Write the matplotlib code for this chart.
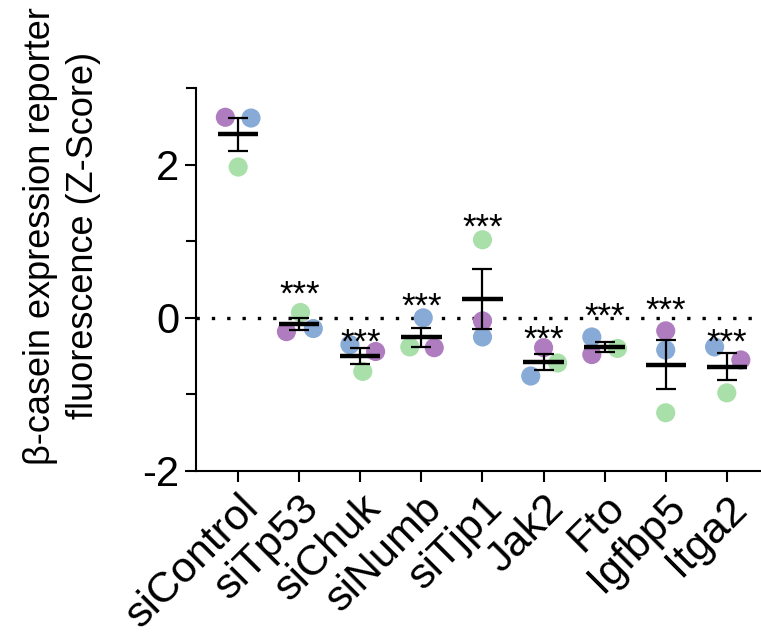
import matplotlib
matplotlib.use("Agg")
import matplotlib.pyplot as plt
import numpy as np

plt.rcParams['font.family'] = ['Liberation Sans', 'DejaVu Sans']
plt.rcParams['axes.unicode_minus'] = False

groups = ['siControl', 'siTp53', 'siChuk', 'siNumb', 'siTjp1', 'Jak2', 'Fto', 'Igfbp5', 'Itga2']
# replicate values (purple, blue, green)
rep_purple = [2.62, -0.18, -0.44, -0.39, -0.04, -0.39, -0.48, -0.17, -0.55]
rep_blue = [2.61, -0.14, -0.35, 0.00, -0.25, -0.76, -0.25, -0.42, -0.38]
rep_green = [1.97, 0.07, -0.70, -0.38, 1.02, -0.59, -0.40, -1.24, -0.98]
stars = ['', '***', '***', '***', '***', '***', '***', '***', '***']
star_y = [0, 0.42, -0.20, 0.26, 1.30, -0.17, 0.13, 0.22, -0.21]

# horizontal jitter used by the plotting program (style only)
off_purple = [-0.21, -0.21, 0.25, 0.21, 0.0, 0.0, -0.21, 0.0, 0.23]
off_blue = [0.21, 0.23, -0.17, 0.03, 0.0, -0.21, -0.21, 0.0, -0.2]
off_green = [0.0, 0.02, 0.04, -0.19, 0.0, 0.23, 0.21, 0.0, 0.0]

c_purple = '#B07CC0'
c_blue = '#88AAD6'
c_green = '#A9E0AA'

fig = plt.figure(figsize=(7.61, 6.39), dpi=100)
ax = fig.add_axes([0.2576, 0.263, 0.7424, 0.599])

x = np.arange(len(groups))
data = np.array([rep_purple, rep_blue, rep_green])
means = data.mean(axis=0)
sems = data.std(axis=0, ddof=1) / np.sqrt(3)

ax.axhline(0, color='black', linestyle=(0, (1, 3.6)), linewidth=2.4, zorder=1)

for vals, offs, col in [(rep_purple, off_purple, c_purple),
                        (rep_blue, off_blue, c_blue),
                        (rep_green, off_green, c_green)]:
    ax.scatter(x + np.array(offs), vals, s=190, color=col, edgecolors='none', zorder=2)

ax.errorbar(x, means, yerr=sems, fmt='none', ecolor='black', elinewidth=1.6,
            capsize=7.5, capthick=1.6, zorder=3)
for xi, m in zip(x, means):
    ax.plot([xi - 0.33, xi + 0.33], [m, m], color='black', linewidth=3.2, zorder=4,
            solid_capstyle='butt')

for xi, sy, s in zip(x, star_y, stars):
    if s:
        ax.text(xi, sy - 0.25, s, ha='center', va='baseline', fontsize=25)

ax.set_xlim(-0.69, 8.56)
ax.set_ylim(-2, 3)
ax.set_yticks([-2, 0, 2])
ax.set_yticks([-1, 1, 3], minor=True)
ax.set_xticks(x)
ax.set_xticklabels(groups, rotation=45, ha='right', rotation_mode='anchor', fontsize=31)
ax.tick_params(axis='y', labelsize=30, width=1.5, length=8, pad=4)
ax.tick_params(axis='y', which='minor', width=1.5, length=7)
ax.tick_params(axis='x', width=1.5, length=8, pad=4)
ax.spines['top'].set_visible(False)
ax.spines['right'].set_visible(False)
ax.spines['left'].set_linewidth(1.5)
ax.spines['bottom'].set_linewidth(1.5)
ax.set_ylabel('\u03b2-casein expression reporter\nfluorescence (Z-Score)', fontsize=26,
              linespacing=1.3)
ax.yaxis.set_label_coords(-0.168, 0.614)

fig.savefig('out.png', dpi=100)
